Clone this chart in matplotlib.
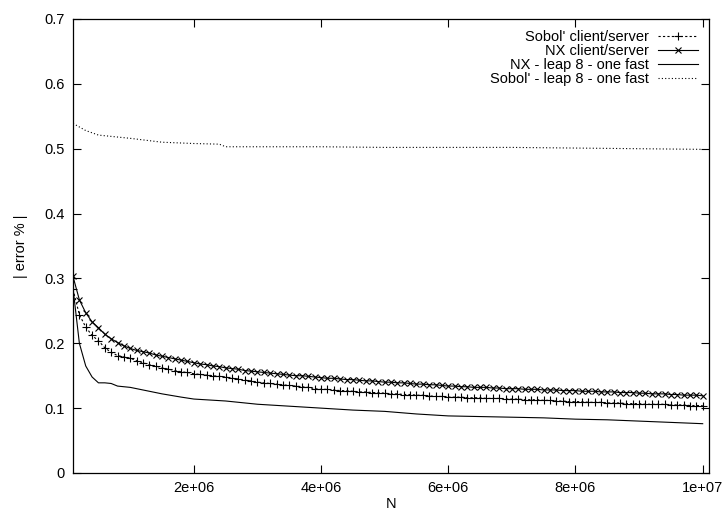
import numpy as np
import matplotlib.pyplot as plt

plt.rcParams['font.family'] = ['Liberation Sans', 'DejaVu Sans']

# x axis for the client/server runs: N = 1e5 .. 1e7
n_cs = np.arange(1, 101) * 1e5

sobol_cs = [0.283, 0.244, 0.225, 0.212, 0.204, 0.193, 0.186, 0.181, 0.179, 0.177,
            0.173, 0.170, 0.167, 0.165, 0.162, 0.160, 0.158, 0.156, 0.155, 0.153,
            0.152, 0.151, 0.150, 0.149, 0.148, 0.146, 0.145, 0.143, 0.142, 0.140,
            0.139, 0.138, 0.137, 0.136, 0.135, 0.134, 0.133, 0.132, 0.130, 0.129,
            0.129, 0.128, 0.127, 0.127, 0.126, 0.125, 0.125, 0.124, 0.124, 0.123,
            0.122, 0.122, 0.121, 0.121, 0.120, 0.120, 0.119, 0.118, 0.118, 0.117,
            0.117, 0.117, 0.116, 0.116, 0.116, 0.115, 0.115, 0.115, 0.114, 0.114,
            0.114, 0.113, 0.113, 0.113, 0.112, 0.112, 0.111, 0.111, 0.110, 0.110,
            0.110, 0.109, 0.109, 0.109, 0.108, 0.108, 0.108, 0.107, 0.107, 0.107,
            0.106, 0.106, 0.106, 0.106, 0.105, 0.105, 0.105, 0.104, 0.104, 0.104]

nx_cs = [0.303, 0.267, 0.247, 0.233, 0.224, 0.214, 0.207, 0.201, 0.196, 0.192,
         0.189, 0.187, 0.185, 0.182, 0.180, 0.178, 0.176, 0.174, 0.172, 0.170,
         0.168, 0.167, 0.165, 0.164, 0.162, 0.161, 0.160, 0.158, 0.157, 0.156,
         0.155, 0.154, 0.153, 0.152, 0.151, 0.150, 0.150, 0.149, 0.148, 0.147,
         0.146, 0.146, 0.145, 0.144, 0.144, 0.143, 0.142, 0.142, 0.141, 0.140,
         0.140, 0.139, 0.139, 0.138, 0.137, 0.137, 0.136, 0.136, 0.135, 0.134,
         0.134, 0.133, 0.133, 0.132, 0.132, 0.132, 0.131, 0.131, 0.130, 0.130,
         0.130, 0.129, 0.129, 0.129, 0.128, 0.128, 0.128, 0.127, 0.127, 0.127,
         0.126, 0.126, 0.126, 0.125, 0.125, 0.125, 0.124, 0.124, 0.124, 0.123,
         0.123, 0.122, 0.122, 0.122, 0.121, 0.121, 0.120, 0.120, 0.120, 0.119]

# leap 8 - one fast runs
n_nx_fast = [1e5, 2e5, 3e5, 4e5, 5e5, 6e5, 7e5, 8e5, 9e5, 1e6, 1.2e6, 1.5e6, 1.8e6,
             2e6, 2.5e6, 3e6, 3.5e6, 4e6, 4.5e6, 5e6, 5.5e6, 6e6, 6.5e6, 7e6,
             7.5e6, 8e6, 8.5e6, 9e6, 9.5e6, 1e7]
nx_fast = [0.285, 0.200, 0.165, 0.148, 0.139, 0.139, 0.138, 0.134, 0.133, 0.132,
           0.128, 0.122, 0.117, 0.114, 0.111, 0.106, 0.103, 0.100, 0.097, 0.095,
           0.091, 0.088, 0.087, 0.086, 0.085, 0.083, 0.082, 0.080, 0.078, 0.076]

n_sobol_fast = [1e5, 3e5, 5e5, 1e6, 1.5e6, 2e6, 2.4e6, 2.5e6, 3e6, 4e6, 5e6, 6e6,
                7e6, 8e6, 9e6, 1e7]
sobol_fast = [0.539, 0.528, 0.521, 0.516, 0.510, 0.508, 0.507, 0.503, 0.503, 0.503,
              0.502, 0.502, 0.502, 0.501, 0.500, 0.499]

fig = plt.figure(figsize=(7.25, 5.12), dpi=100)
ax = fig.add_axes([0.1007, 0.0762, 0.8773, 0.8867])

dots = (0, (2, 2))
ax.plot(n_cs, sobol_cs, color='black', lw=0.8, ls=dots, marker='+', ms=5.5,
        mew=0.8, label="Sobol' client/server")
ax.plot(n_cs, nx_cs, color='black', lw=0.8, marker='x', ms=4.5, mew=0.8,
        label='NX client/server')
ax.plot(n_nx_fast, nx_fast, color='black', lw=0.8, label='NX - leap 8 - one fast')
ax.plot(n_sobol_fast, sobol_fast, color='black', lw=0.8, ls=(0, (1, 2)),
        label="Sobol' - leap 8 - one fast")

ax.set_xlim(1e5, 1.01e7)
ax.set_ylim(0, 0.7)
ax.set_xticks([2e6, 4e6, 6e6, 8e6, 1e7])
ax.set_xticklabels(['2e+06', '4e+06', '6e+06', '8e+06', '1e+07'])
ax.set_yticks(np.arange(0, 0.71, 0.1))
ax.set_yticklabels(['0', '0.1', '0.2', '0.3', '0.4', '0.5', '0.6', '0.7'])
ax.tick_params(direction='in', top=True, right=True, length=6, width=0.8,
               labelsize=10.5, pad=6)
for s in ax.spines.values():
    s.set_linewidth(0.9)

ax.set_xlabel('N', fontsize=10.5, labelpad=1)
ax.set_ylabel('| error % |', fontsize=10.5, labelpad=12)

ax.legend(loc='upper right', frameon=False, markerfirst=False, fontsize=10.5,
          handlelength=2.75, labelspacing=0.0, borderaxespad=0.45,
          handletextpad=0.6, borderpad=0.3)

fig.savefig('out.png', dpi=100)
